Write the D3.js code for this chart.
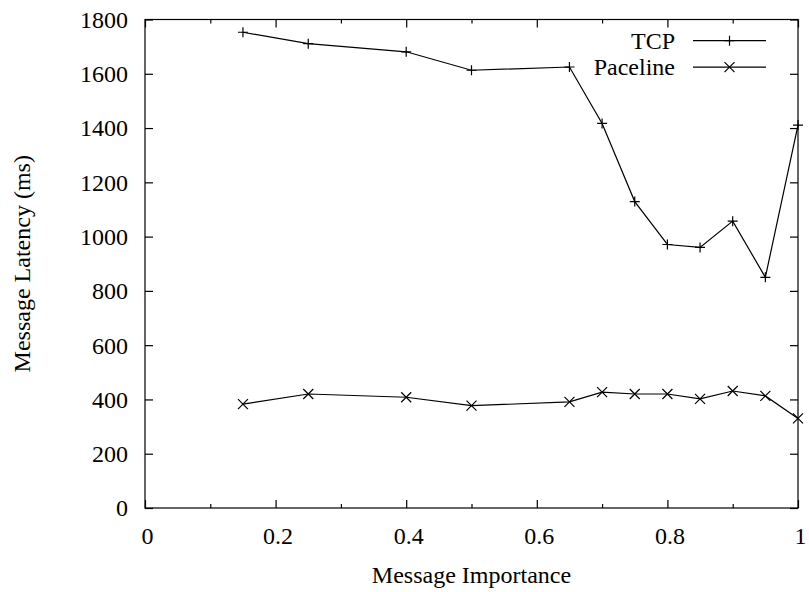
<!DOCTYPE html>
<html><head><meta charset="utf-8">
<script src="https://cdn.jsdelivr.net/npm/d3@7"></script>
<style>body{margin:0;background:#fff}svg{display:block}</style>
</head><body>
<svg id="c" width="809" height="592"></svg>
<script>
const importance = [0.15,0.25,0.4,0.5,0.65,0.7,0.75,0.8,0.85,0.9,0.95,1.0];
const tcp =      [1753,1711,1681,1613,1625,1417,1129,971,960,1057,850,1411];
const paceline = [383,420,408,377,391,427,420,420,402,431,413,330];
const xTicks = [0,0.2,0.4,0.6,0.8,1];
const xMinor = [0.1,0.3,0.5,0.7,0.9];
const yTicks = [0,200,400,600,800,1000,1200,1400,1600,1800];
const seriesNames = ["TCP","Paceline"];

const L=145,R=798,T=19.5,B=508;
const svg=d3.select("#c");
const x=d3.scaleLinear().domain([0,1]).range([L,R]);
const y=d3.scaleLinear().domain([0,1800]).range([B,T]);
const fs=24;

svg.append("rect").attr("x",L).attr("y",T).attr("width",R-L).attr("height",B-T)
  .attr("fill","none").attr("stroke","#000").attr("stroke-width",1.2);

const gx=svg.append("g").attr("transform",`translate(0,${B})`)
  .call(d3.axisBottom(x).tickValues(xTicks).tickSize(-8).tickPadding(0).tickFormat(d=>d3.format("")(d)));
gx.select(".domain").remove();
gx.selectAll("text").attr("dy",null).attr("y",36).attr("dx",2);
const gxm=svg.append("g").attr("transform",`translate(0,${B})`)
  .call(d3.axisBottom(x).tickValues(xMinor).tickSize(-4).tickFormat(""));
gxm.select(".domain").remove();
const gt=svg.append("g").attr("transform",`translate(0,${T})`)
  .call(d3.axisTop(x).tickValues(xTicks).tickSize(-8).tickFormat(""));
gt.select(".domain").remove();
const gtm=svg.append("g").attr("transform",`translate(0,${T})`)
  .call(d3.axisTop(x).tickValues(xMinor).tickSize(-4).tickFormat(""));
gtm.select(".domain").remove();

const gy=svg.append("g").attr("transform",`translate(${L},0)`)
  .call(d3.axisLeft(y).tickValues(yTicks).tickSize(-8).tickPadding(17).tickFormat(d3.format("d")));
gy.select(".domain").remove();
gy.selectAll("text").attr("dy","0.33em");
const gr=svg.append("g").attr("transform",`translate(${R},0)`)
  .call(d3.axisRight(y).tickValues(yTicks).tickSize(-8).tickFormat(""));
gr.select(".domain").remove();
svg.selectAll(".tick line").attr("stroke","#000").attr("stroke-width",1.2);
svg.selectAll("g").attr("font-family",null).attr("font-size",null);

svg.append("text").attr("x",(L+R)/2).attr("y",583).attr("text-anchor","middle").text("Message Importance");
svg.append("text").attr("transform",`translate(30,${(T+B)/2}) rotate(-90)`)
  .attr("text-anchor","middle").text("Message Latency (ms)");

const line=d3.line().x((d,i)=>x(importance[i])).y(d=>y(d));
const ms=5;
function plus(g,cx,cy){g.append("path").attr("d",`M${cx-ms},${cy}H${cx+ms}M${cx},${cy-ms}V${cy+ms}`).attr("stroke","#000").attr("stroke-width",1.2).attr("fill","none");}
function cross(g,cx,cy){g.append("path").attr("d",`M${cx-ms},${cy-ms}L${cx+ms},${cy+ms}M${cx-ms},${cy+ms}L${cx+ms},${cy-ms}`).attr("stroke","#000").attr("stroke-width",1.2).attr("fill","none");}
const data=[tcp,paceline], marks=[plus,cross];
data.forEach((s,k)=>{
  svg.append("path").attr("d",line(s)).attr("fill","none").attr("stroke","#000").attr("stroke-width",1.2);
  const g=svg.append("g");
  s.forEach((v,i)=>marks[k](g,x(importance[i]),y(v)));
});

seriesNames.forEach((n,k)=>{
  const ly=40.7+k*26.5;
  svg.append("text").attr("x",675).attr("y",ly+8).attr("text-anchor","end").text(n);
  svg.append("line").attr("x1",693).attr("x2",766).attr("y1",ly).attr("y2",ly).attr("stroke","#000").attr("stroke-width",1.2);
  marks[k](svg,729.5,ly);
});

svg.selectAll("text").style("font-family",'"Liberation Serif"').style("font-size",fs+"px").attr("fill","#000");
</script>
</body></html>
